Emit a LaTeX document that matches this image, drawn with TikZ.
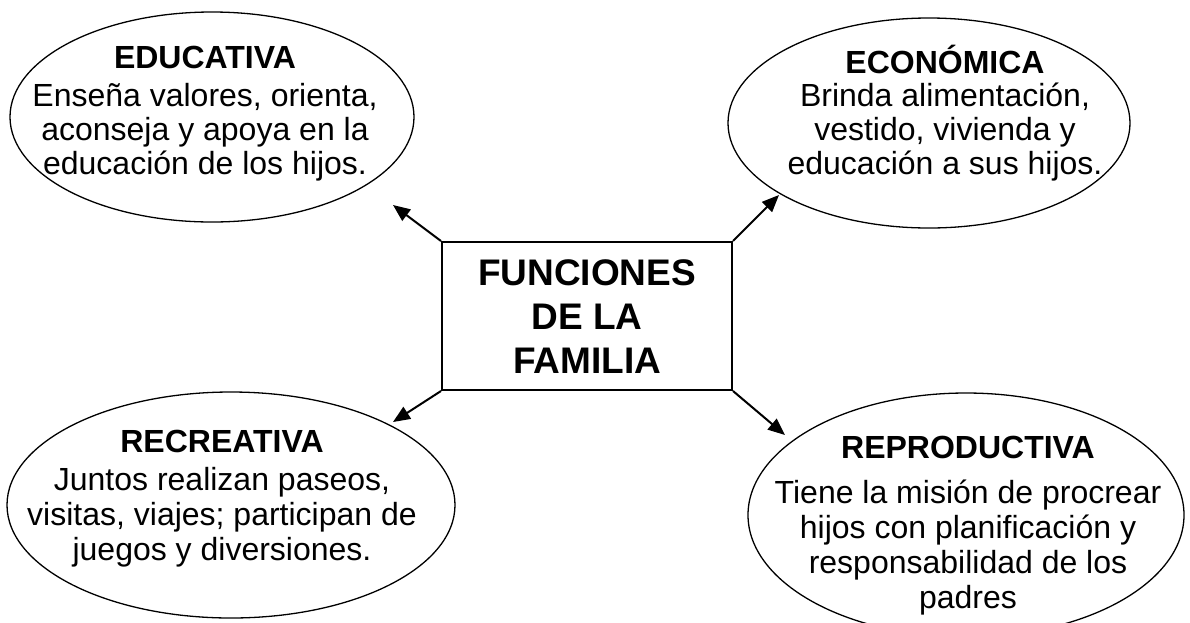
\documentclass[tikz,border=0pt]{standalone}
\usepackage{fontspec}
\setmainfont{Liberation Sans}
\usetikzlibrary{shapes.geometric,arrows.meta}
\tikzset{
  elli/.style={ellipse, draw, line width=1.3pt, inner sep=0pt},
  lbl/.style={anchor=base, inner sep=0pt, font=\fontsize{32}{34}\selectfont},
  centbox/.style={draw, line width=2pt, inner sep=0pt, minimum width=290pt, minimum height=148pt},
  arr/.style={line width=2pt, -{Triangle[length=17pt,width=14pt]}}
}
\begin{document}
\begin{tikzpicture}[x=1pt,y=-1pt]
\useasboundingbox (0,0) rectangle (1190,622);
% ellipses
\node[elli, minimum width=404pt, minimum height=210pt] (edu) at (212,117) {};
\node[elli, minimum width=402pt, minimum height=210pt] (eco) at (929,123) {};
\node[elli, minimum width=448pt, minimum height=226pt] (rec) at (231,505) {};
\node[elli, minimum width=436pt, minimum height=244pt] (rep) at (966,515) {};
% texts
\node[lbl] (edut) at (205,68) {\begin{tabular}[t]{@{}c@{}}\textbf{EDUCATIVA}\\[4pt]
Enseña valores, orienta,\\ aconseja y apoya en la\\ educación de los hijos.\end{tabular}};
\node[lbl] (ecot) at (945,73) {\begin{tabular}[t]{@{}c@{}}\textbf{ECONÓMICA}\\[-1pt]
Brinda alimentación,\\ vestido, vivienda y\\ educación a sus hijos.\end{tabular}};
\node[lbl] (rect) at (222,452) {\begin{tabular}[t]{@{}c@{}}\textbf{RECREATIVA}\\[4pt]
Juntos realizan paseos,\\[1pt] visitas, viajes; participan de\\[1pt] juegos y diversiones.\end{tabular}};
\node[lbl] (rept) at (968,458) {\begin{tabular}[t]{@{}c@{}}\textbf{REPRODUCTIVA}\\[11pt]
Tiene la misión de procrear\\[1pt] hijos con planificación y\\[1pt] responsabilidad de los\\[1pt] padres\end{tabular}};
% center box
\node[centbox] (box) at (587,316) {};
\node[anchor=base, inner sep=0pt, font=\bfseries\fontsize{37}{44}\selectfont] (boxt) at (587,285)
  {\begin{tabular}[t]{@{}c@{}}FUNCIONES\\ DE LA\\ FAMILIA\end{tabular}};
% arrow tips
\coordinate (t1) at (393,205);
\coordinate (t2) at (779,195);
\coordinate (t3) at (393,422);
\coordinate (t4) at (785,435);
\draw[arr] (box.north west) -- (t1);
\draw[arr] (box.north east) -- (t2);
\draw[arr] (box.south west) -- (t3);
\draw[arr] (box.south east) -- (t4);
\end{tikzpicture}
\end{document}
